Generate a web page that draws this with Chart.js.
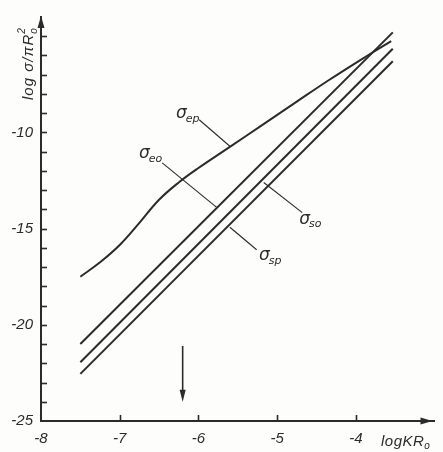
<!DOCTYPE html>
<html>
<head>
<meta charset="utf-8">
<script src="https://cdn.jsdelivr.net/npm/chart.js@4.4.1/dist/chart.umd.min.js"></script>
<style>
  html, body { margin:0; padding:0; background:#fdfdfc; }
  #wrap { width:443px; height:452px; position:relative; }
</style>
</head>
<body>
<div id="wrap"><canvas id="c"></canvas></div>
<script>
// ---- data ----
const krEp    = [-7.5, -7.25, -7.0, -6.75, -6.5, -6.25, -6.0, -5.6, -5.2, -4.75, -4.35, -3.85, -3.55];
const sigmaEp = [-17.5, -16.75, -15.85, -14.7, -13.5, -12.6, -11.85, -10.75, -9.65, -8.4, -7.3, -6.0, -5.25];
const krLine  = [-7.5, -3.53];
const sigmaEo = [-21.0, -4.8];
const sigmaSo = [-21.95, -5.65];
const sigmaSp = [-22.55, -6.3];
const xTickValues = [-8, -7, -6, -5, -4];
const yLabelValues = [-25, -20, -15, -10];
const markerKR = -6.2, markerFrom = -21.1, markerTo = -24.0;
// curve labels: sub, label centre, pointer from/to (data units)
const curveLabels = [
  { sub:'ep', at:[-6.13, -9.09],  from:[-5.99, -9.34],  to:[-5.60, -10.72] },
  { sub:'eo', at:[-6.60, -11.17], from:[-6.46, -11.58], to:[-5.76, -13.92] },
  { sub:'so', at:[-4.57, -14.58], from:[-4.68, -14.17], to:[-5.17, -12.60] },
  { sub:'sp', at:[-5.08, -16.46], from:[-5.26, -16.10], to:[-5.60, -14.93] }
];

const ink = '#2b2b2b';
const pts = (xs, ys) => xs.map((x, i) => ({ x, y: ys[i] }));

const deco = {
  id: 'deco',
  afterDraw(chart) {
    const ctx = chart.ctx, xs = chart.scales.x, ys = chart.scales.y;
    const ca = chart.chartArea;
    const X = v => xs.getPixelForValue(v), Y = v => ys.getPixelForValue(v);
    ctx.save();
    ctx.strokeStyle = ink; ctx.fillStyle = ink;
    // axis arrowheads
    const ax = ca.left, ay = ca.bottom;
    ctx.beginPath();
    ctx.moveTo(ax, ca.top - 1); ctx.lineTo(ax - 3.5, ca.top + 11); ctx.lineTo(ax + 3.5, ca.top + 11); ctx.closePath(); ctx.fill();
    ctx.beginPath();
    ctx.moveTo(ca.right - 2, ay); ctx.lineTo(ca.right - 14, ay - 3.5); ctx.lineTo(ca.right - 14, ay + 3.5); ctx.closePath(); ctx.fill();
    // y tick marks (every unit, pointing inward)
    ctx.lineWidth = 1.6;
    for (let v = -24; v <= -5; v++) {
      const py = Math.round(Y(v)) + 0.5;
      ctx.beginPath(); ctx.moveTo(ax, py); ctx.lineTo(ax + 6, py); ctx.stroke();
    }
    // x tick marks
    xTickValues.forEach(v => {
      if (v === -8) return;
      const px = Math.round(X(v)) + 0.5;
      ctx.beginPath(); ctx.moveTo(px, ay); ctx.lineTo(px, ay - 6); ctx.stroke();
    });
    // marker arrow
    ctx.lineWidth = 1.6;
    const mx = X(markerKR), my1 = Y(markerFrom), my2 = Y(markerTo);
    ctx.beginPath(); ctx.moveTo(mx, my1); ctx.lineTo(mx, my2 - 10); ctx.stroke();
    ctx.beginPath(); ctx.moveTo(mx, my2); ctx.lineTo(mx - 3, my2 - 12); ctx.lineTo(mx + 3, my2 - 12); ctx.closePath(); ctx.fill();
    // curve labels
    curveLabels.forEach(l => {
      ctx.lineWidth = 1.1;
      ctx.beginPath(); ctx.moveTo(X(l.from[0]), Y(l.from[1])); ctx.lineTo(X(l.to[0]), Y(l.to[1])); ctx.stroke();
      const cx = X(l.at[0]), cy = Y(l.at[1]);
      ctx.font = 'italic 17px "DejaVu Sans"';
      const w1 = ctx.measureText('σ').width;
      ctx.font = 'italic 11px "DejaVu Sans"';
      const w2 = ctx.measureText(l.sub).width;
      const left = cx - (w1 + w2) / 2;
      ctx.textAlign = 'left'; ctx.textBaseline = 'middle';
      ctx.font = 'italic 17px "DejaVu Sans"';
      ctx.fillText('σ', left, cy - 1);
      ctx.font = 'italic 11px "DejaVu Sans"';
      ctx.fillText(l.sub, left + w1 - 1, cy + 4);
    });
    // x axis title
    ctx.textBaseline = 'alphabetic'; ctx.textAlign = 'left';
    ctx.letterSpacing = '0.5px';
    ctx.font = 'italic 15px "Liberation Sans"';
    const tx = 381, tyb = 446;
    ctx.fillText('logKR', tx, tyb);
    const wk = ctx.measureText('logKR').width;
    ctx.font = 'italic 10px "Liberation Sans"';
    ctx.fillText('o', tx + wk, tyb + 3);
    // y axis title (rotated)
    ctx.save();
    ctx.translate(33, 100);
    ctx.rotate(-Math.PI / 2);
    ctx.letterSpacing = '1px';
    ctx.font = 'italic 15px "Liberation Sans"';
    const main = 'log σ/πR';
    ctx.fillText(main, 0, 0);
    const wm = ctx.measureText(main).width;
    ctx.font = 'italic 10px "Liberation Sans"';
    ctx.fillText('2', wm, -8);
    ctx.fillText('o', wm, 4);
    ctx.restore();
    ctx.restore();
  }
};

const lineStyle = { showLine:true, pointRadius:0, borderColor:ink, borderWidth:2, fill:false };

new Chart(document.getElementById('c'), {
  type: 'scatter',
  data: {
    datasets: [
      Object.assign({ label:'σep', data: pts(krEp, sigmaEp), tension:0.4 }, lineStyle),
      Object.assign({ label:'σeo', data: pts(krLine, sigmaEo) }, lineStyle),
      Object.assign({ label:'σso', data: pts(krLine, sigmaSo) }, lineStyle),
      Object.assign({ label:'σsp', data: pts(krLine, sigmaSp) }, lineStyle)
    ]
  },
  options: {
    responsive: true,
    maintainAspectRatio: false,
    animation: false,
    layout: { padding: { top: 8, right: 8.5, left: 0, bottom: 0 } },
    plugins: { legend: { display:false }, tooltip: { enabled:false } },
    scales: {
      x: {
        type: 'linear', min: -8, max: -3,
        afterFit: s => { s.height = 31; },
        afterBuildTicks: s => { s.ticks = xTickValues.map(v => ({ value: v })); },
        grid: { display:false, drawTicks:false },
        border: { display:true, color: ink, width: 2 },
        ticks: { padding: 9, color: ink, font: { family:'"Liberation Sans"', size: 15, style:'italic' },
                 callback: v => String(v) }
      },
      y: {
        type: 'linear', min: -25, max: -4,
        afterFit: s => { s.width = 41; },
        afterBuildTicks: s => { s.ticks = yLabelValues.map(v => ({ value: v })); },
        grid: { display:false, drawTicks:false },
        border: { display:true, color: ink, width: 2 },
        ticks: { padding: 8, color: ink, font: { family:'"Liberation Sans"', size: 15, style:'italic' },
                 callback: v => String(v) }
      }
    }
  },
  plugins: [deco]
});
</script>
</body>
</html>
